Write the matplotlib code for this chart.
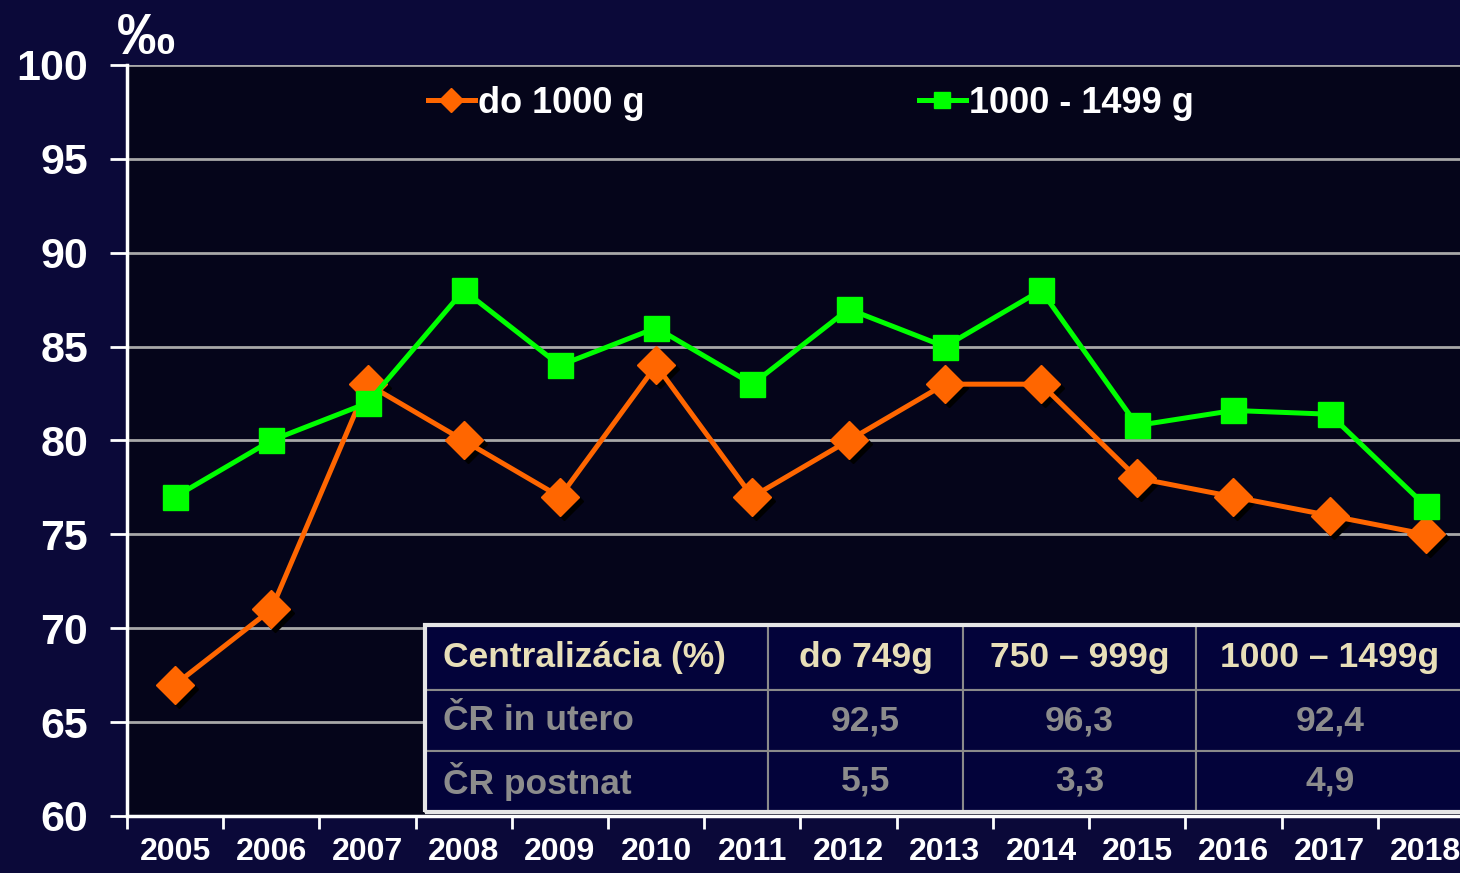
import numpy as np
import matplotlib.pyplot as plt
import matplotlib.transforms as mtransforms
from matplotlib.patches import Rectangle

years = ["2005", "2006", "2007", "2008", "2009", "2010", "2011",
         "2012", "2013", "2014", "2015", "2016", "2017", "2018"]
do_1000 = [67, 71, 83, 80, 77, 84, 77, 80, 83, 83, 78, 77, 76, 75]
g1000_1499 = [77, 80, 82, 88, 84, 86, 83, 87, 85, 88, 80.8, 81.6, 81.4, 76.5]

table_header = ["Centralizácia (%)", "do 749g", "750 – 999g", "1000 – 1499g"]
table_rows = [["ČR in utero", "92,5", "96,3", "92,4"],
              ["ČR postnat", "5,5", "3,3", "4,9"]]

plt.rcParams['font.family'] = ['Liberation Sans', 'DejaVu Sans']
plt.rcParams['font.weight'] = 'bold'

bg = '#0b0939'
fig = plt.figure(figsize=(14.6, 8.73), dpi=100, facecolor=bg)
ax = fig.add_axes([127/1460, 57/873, 1347/1460, 751/873])
ax.set_facecolor('#05051a')

x = np.arange(len(years))

# grid
ax.set_ylim(60, 100)
ax.set_yticks(np.arange(60, 101, 5))
ax.yaxis.grid(True, color='#a8a8a8', linewidth=2)
ax.set_axisbelow(True)

# shadow for diamonds
shadow = mtransforms.offset_copy(ax.transData, fig=fig, x=4, y=-4, units='dots')
ax.plot(x, do_1000, linestyle='none', marker='D', ms=19, color='black',
        transform=shadow, zorder=2)
ax.plot(x, do_1000, color='#ff6600', lw=3.6, marker='D', ms=19,
        label='do 1000 g', zorder=3)
ax.plot(x, g1000_1499, color='#00ff00', lw=3.6, marker='s', ms=18,
        label='1000 - 1499 g', zorder=3)

ax.set_xlim(-0.5, len(years) - 0.5)
ax.set_xticks(np.arange(-0.5, len(years), 1))
ax.set_xticklabels([])
ax.set_xticks(x, minor=True)
ax.set_xticklabels(years, minor=True)
ax.tick_params(axis='x', which='major', length=9, width=2, color='white', direction='out')
ax.tick_params(axis='x', which='minor', length=0, pad=15, labelsize=23, labelcolor='white')
ax.tick_params(axis='y', length=12, width=2, color='white', labelsize=31,
               labelcolor='white', pad=16)

for s in ['top', 'right']:
    ax.spines[s].set_visible(False)
for s in ['left', 'bottom']:
    ax.spines[s].set_color('white')
    ax.spines[s].set_linewidth(2.5)

fig.text(117/1460, 1 - 54/873, '‰', color='white', fontsize=42, fontweight='bold')

leg = ax.legend(loc='upper left', bbox_to_anchor=(428/1460, 1 - 86/873),
                bbox_transform=fig.transFigure, ncol=2, frameon=False,
                fontsize=26, handlelength=1.3, handletextpad=0.08, markerscale=0.65,
                columnspacing=7.6, labelcolor='white', borderpad=0, borderaxespad=0)

# table
tl, tr = (425 - 127) / 1347, (1464 - 127) / 1347
tb, tt = (816 - 812) / 751, (816 - 625) / 751
widths = np.array([343, 195, 233, 268]) / 1347
tab = ax.table(cellText=table_rows, colLabels=table_header, colWidths=list(widths),
               cellLoc='center', bbox=[tl, tb, tr - tl, tt - tb], zorder=5)
tab.auto_set_font_size(False)
for (r, c), cell in tab.get_celld().items():
    cell.set_facecolor('#03033a')
    cell.set_edgecolor('#8a8a8a')
    cell.set_linewidth(1.5)
    txt = cell.get_text()
    txt.set_color('#e8dfb8' if r == 0 else '#8c8c8c')
    txt.set_fontsize(25.5)
    txt.set_fontweight('bold')
    if c == 0:
        txt.set_horizontalalignment('left')
        cell.PAD = 0.052
total = tt - tb
hs = np.array([65, 61, 61]) / 187 * total
for (r, c), cell in tab.get_celld().items():
    cell.set_height(hs[r])
ax.add_patch(Rectangle((tl, tb), tr - tl, tt - tb, transform=ax.transAxes,
                       fill=False, edgecolor='#e6e6e6', linewidth=3, zorder=6,
                       clip_on=False))

plt.savefig('out.png', dpi=100, facecolor=bg)
